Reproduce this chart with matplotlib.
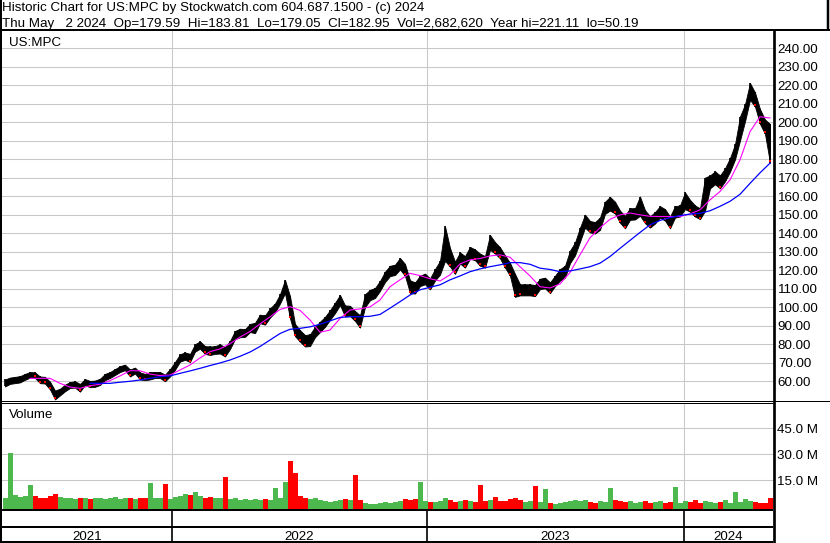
import numpy as np
import matplotlib.pyplot as plt

plt.rcParams['font.family'] = ['Liberation Sans', 'DejaVu Sans']

W, H = 830, 543

# price range per 5 trading days
hi = [61.0, 62.0, 62.4, 62.8, 64.0, 65.0, 64.8, 62.6, 62.4, 59.8,
      55.0, 56.0, 58.2, 59.6, 60.0, 58.6, 61.2, 60.2, 60.4, 61.4,
      64.0, 65.0, 66.6, 68.2, 69.0, 66.4, 67.4, 64.8, 64.0, 65.0,
      65.0, 65.0, 63.6, 66.6, 70.4, 74.6, 75.6, 74.8, 80.0, 81.6,
      79.0, 78.8, 79.0, 80.0, 78.4, 81.8, 87.2, 88.4, 88.2, 91.0,
      91.6, 96.0, 95.6, 99.4, 102.0, 107.0, 114.8, 106.0, 91.0, 87.6,
      85.0, 85.4, 89.4, 92.2, 94.8, 98.4, 102.4, 106.6, 101.0, 100.8,
      98.0, 95.6, 107.0, 109.4, 110.4, 114.2, 119.2, 122.4, 123.0, 126.6,
      123.4, 114.6, 113.4, 117.0, 118.2, 115.6, 120.6, 125.0, 143.7, 132.0,
      124.6, 129.6, 127.6, 132.6, 131.2, 129.0, 127.6, 139.0, 135.2, 132.4,
      128.0, 124.0, 118.0, 112.4, 112.4, 112.4, 112.0, 115.4, 116.0, 113.4,
      117.0, 120.6, 122.4, 130.6, 135.0, 143.0, 150.0, 146.6, 146.0, 148.4,
      157.0, 159.6, 157.0, 152.2, 149.4, 153.6, 153.4, 159.8, 152.4, 149.2,
      151.4, 154.6, 153.0, 149.0, 154.6, 155.0, 162.0, 158.0, 155.0, 153.4,
      170.0, 171.2, 173.4, 171.2, 175.0, 180.6, 188.0, 203.0, 209.6, 221.1,
      216.0, 207.0, 201.4, 199.0]
lo = [57.2, 58.6, 59.0, 59.4, 60.8, 62.0, 61.8, 59.0, 58.8, 55.6,
      50.2, 52.4, 54.6, 56.4, 56.6, 54.4, 58.0, 56.8, 57.0, 58.0,
      60.6, 61.8, 63.4, 65.0, 66.0, 62.6, 64.2, 61.0, 60.6, 61.0,
      61.8, 61.8, 60.0, 62.6, 66.2, 70.6, 71.6, 70.4, 76.0, 77.6,
      74.8, 74.2, 74.8, 75.0, 73.4, 77.4, 82.8, 83.8, 84.0, 86.6,
      86.0, 91.4, 90.6, 94.4, 97.2, 102.0, 107.6, 94.0, 84.4, 81.4,
      78.8, 79.0, 83.8, 86.6, 89.4, 93.2, 96.8, 101.2, 95.0, 95.2,
      92.6, 89.0, 100.0, 103.8, 105.0, 108.8, 113.6, 116.8, 117.4, 120.4,
      117.0, 107.6, 107.4, 111.4, 112.4, 109.6, 114.4, 117.6, 125.0, 122.0,
      118.0, 123.6, 121.4, 126.2, 125.4, 122.4, 121.4, 131.0, 129.0, 126.4,
      121.4, 117.0, 105.6, 106.4, 106.4, 106.4, 106.0, 109.8, 110.2, 107.6,
      111.4, 114.4, 116.0, 123.8, 128.0, 135.4, 143.0, 140.4, 139.8, 141.8,
      150.4, 152.2, 150.6, 145.6, 142.6, 147.2, 147.4, 149.4, 145.4, 143.0,
      145.2, 148.4, 146.8, 142.6, 148.4, 149.0, 153.0, 151.6, 149.0, 147.6,
      152.0, 164.2, 166.4, 164.2, 168.0, 173.2, 179.8, 190.0, 200.4, 212.0,
      208.4, 199.0, 193.6, 178.0]

# moving averages, every 10 trading days
ma_short = [61.6, 61.6, 61.6, 58.9, 56.9, 56.2, 57.6, 58.4, 60.4, 62.9,
            65.7, 65.7, 63.9, 63.1, 63.4, 66.1, 68.8, 72.6, 76.0, 77.5,
            80.3, 83.9, 86.9, 91.0, 94.8, 98.8, 100.3, 98.3, 93.1, 86.5,
            87.7, 93.9, 98.5, 99.1, 100.2, 103.9, 111.1, 114.8, 118.3, 117.1,
            115.4, 114.2, 117.5, 123.4, 125.6, 126.3, 127.7, 128.3, 127.0, 121.9,
            116.9, 111.1, 110.4, 112.6, 118.8, 128.3, 137.5, 142.9, 147.5, 149.9,
            150.9, 149.9, 149.1, 149.0, 149.0, 149.0, 150.4, 152.6, 158.0, 162.5,
            168.8, 179.6, 194.8, 202.9, 202.2]
ma_long = [58.9, 58.9, 58.9, 59.5, 60.0, 60.7, 61.6, 62.5, 62.9, 64.3,
           65.6, 67.0, 68.5, 69.9, 71.5, 73.5, 75.8, 78.8, 82.3, 85.8,
           88.1, 88.6, 89.4, 90.8, 92.6, 94.5, 94.9, 94.9, 95.1, 96.1,
           99.5, 103.0, 106.6, 109.4, 110.8, 112.1, 114.8, 116.9, 119.2, 120.7,
           121.9, 122.9, 124.1, 124.1, 123.2, 121.1, 120.4, 119.2, 119.6, 120.7,
           121.9, 123.8, 127.4, 131.8, 136.1, 140.4, 144.5, 146.9, 148.4, 149.5,
           150.3, 150.7, 152.1, 154.5, 157.2, 161.0, 166.9, 172.6, 177.8]

# volume in millions, every 5 trading days
vol = [5.0, 30.9, 6.5, 5.5, 6.0, 12.3, 6.0, 5.0, 4.5, 6.0,
       7.0, 5.5, 4.5, 5.0, 4.0, 4.5, 5.0, 4.0, 4.5, 5.0,
       4.0, 4.5, 5.5, 4.0, 4.5, 5.0, 4.0, 5.0, 4.5, 13.6,
       5.0, 4.5, 12.9, 4.0, 5.5, 6.0, 7.0, 6.5, 8.0, 6.0,
       5.0, 5.5, 4.5, 5.0, 17.1, 4.0, 4.5, 3.5, 4.0, 3.5,
       4.0, 3.5, 4.0, 3.5, 10.7, 5.0, 14.2, 26.3, 19.4, 6.0,
       5.0, 4.0, 4.5, 3.5, 3.0, 2.5, 3.0, 3.5, 4.0, 3.5,
       18.0, 3.5, 2.0, 1.5, 1.5, 2.0, 2.5, 2.0, 2.5, 3.0,
       4.0, 3.5, 4.0, 14.2, 3.0, 2.5, 2.5, 3.0, 5.0, 3.5,
       2.5, 3.0, 3.5, 3.0, 2.5, 12.3, 3.0, 3.5, 5.5, 3.0,
       3.0, 4.0, 5.0, 3.5, 2.5, 3.0, 11.7, 2.5, 10.2, 2.0,
       1.5, 2.0, 2.5, 3.0, 3.5, 3.0, 3.5, 2.5, 2.0, 3.0,
       2.5, 10.7, 3.5, 3.0, 2.5, 3.0, 2.0, 2.5, 3.0, 2.0,
       2.5, 3.0, 2.0, 2.5, 11.3, 2.0, 3.0, 2.5, 3.5, 2.0,
       3.0, 2.5, 2.0, 2.5, 3.5, 2.0, 8.4, 2.5, 4.0, 3.0,
       2.5, 2.0, 2.0, 5.0]

year_labels = ['2021', '2022', '2023', '2024']
year_starts = [172, 427, 684]   # trading-day index where a new year starts
price_ticks = list(range(60, 250, 10))
vol_ticks = [15, 30, 45]

header1 = "Historic Chart for US:MPC by Stockwatch.com 604.687.1500 - (c) 2024"
header2 = ("Thu May   2 2024  Op=179.59  Hi=183.81  Lo=179.05  Cl=182.95  "
           "Vol=2,682,620  Year hi=221.11  lo=50.19")

t = 5 + 5 * np.arange(len(hi))
t_short = 30 + 10 * np.arange(len(ma_short))
t_long = 90 + 10 * np.arange(len(ma_long))
hi = np.array(hi)
lo = np.array(lo)
mid = (hi + lo) / 2
up = np.r_[True, mid[1:] >= mid[:-1]]
vol_colors = np.where(up, '#4db84d', '#ff0000')

x_range = (2, 773)
grid = '#c8c8c8'
fs = 9.6


def box(x0, y0, x1, y1):
    return [x0 / W, 1 - y1 / H, (x1 - x0) / W, (y1 - y0) / H]


fig = plt.figure(figsize=(W / 100, H / 100), dpi=100)

# price panel
ax = fig.add_axes(box(2, 31, 773, 400))
ax.set_xlim(*x_range)
ax.set_ylim(49.9, 249.2)
ax.fill_between(t, lo, hi, color='black', linewidth=0.6, zorder=3)
ax.vlines(t, lo, hi, color='black', linewidth=1.2, zorder=3)
# red close marks on down periods
ax.plot(t[~up], lo[~up] + 0.8, 's', color='red', markersize=1.6, markeredgewidth=0, zorder=3.5)
ax.plot(t_short, ma_short, color='#ff00ff', lw=0.8, zorder=4)
ax.plot(t_long, ma_long, color='#0000ff', lw=0.9, zorder=4)
ax.set_yticks(price_ticks)
ax.set_yticklabels([f'{p:.2f}' for p in price_ticks])
ax.yaxis.tick_right()
ax.tick_params(axis='y', length=0, pad=3.5, labelsize=fs)
ax.set_xticks(year_starts)
ax.tick_params(axis='x', length=0, labelbottom=False)
ax.grid(color=grid, linewidth=0.75, zorder=0)
ax.set_axisbelow(True)
for s in ax.spines.values():
    s.set_visible(False)

# volume panel
axv = fig.add_axes(box(2, 402.7, 773, 509))
vfloor = -1.56
axv.set_xlim(*x_range)
axv.set_ylim(vfloor, 59.77)
axv.bar(t, np.array(vol) - vfloor, bottom=vfloor, width=5, color=vol_colors, linewidth=0)
axv.set_yticks(vol_ticks)
axv.set_yticklabels([f'{v:.1f} M' for v in vol_ticks])
axv.yaxis.tick_right()
axv.tick_params(axis='y', length=0, pad=3, labelsize=fs)
axv.set_xticks(year_starts)
axv.tick_params(axis='x', length=0, labelbottom=False)
axv.grid(color=grid, linewidth=0.75)
axv.set_axisbelow(True)
for s in axv.spines.values():
    s.set_visible(False)

# year band
axy = fig.add_axes(box(2, 510, 773, 542))
axy.set_xlim(*x_range)
axy.set_ylim(0, 1)
axy.axis('off')
for x in year_starts:
    axy.axvline(x, color='black', lw=1.2)
bounds = [x_range[0]] + year_starts + [x_range[1]]
for i, lab in enumerate(year_labels):
    axy.text((bounds[i] + bounds[i + 1]) / 2, 0.07, lab, ha='center', va='baseline', fontsize=fs)

# frame and header
fr = fig.add_axes([0, 0, 1, 1])
fr.set_xlim(0, W)
fr.set_ylim(H, 0)
fr.axis('off')
fr.patch.set_visible(False)


def hline(y, x0, x1, px):
    fr.plot([x0, x1], [y, y], color='black', lw=px * 0.72, solid_capstyle='butt')


def vline(x, y0, y1, px):
    fr.plot([x, x], [y0, y1], color='black', lw=px * 0.72, solid_capstyle='butt')


vline(1, 0, H, 2)
vline(828, 0, 31, 2.5)
hline(30, 0, W, 2)
vline(773.5, 30, H, 2.7)
hline(400.5, 0, W, 1)
hline(402.8, 0, 773, 1)
hline(509.8, 0, 773, 2)
hline(526.8, 0, 773, 2)
hline(541.8, 0, 773, 2)

fr.text(2, 10.7, header1, fontsize=fs, va='baseline')
fr.text(2, 26.7, header2, fontsize=fs, va='baseline')
fr.text(9, 46.5, 'US:MPC', fontsize=fs, va='baseline')
fr.text(9, 418, 'Volume', fontsize=fs, va='baseline')

fig.savefig('out.png', dpi=100)
